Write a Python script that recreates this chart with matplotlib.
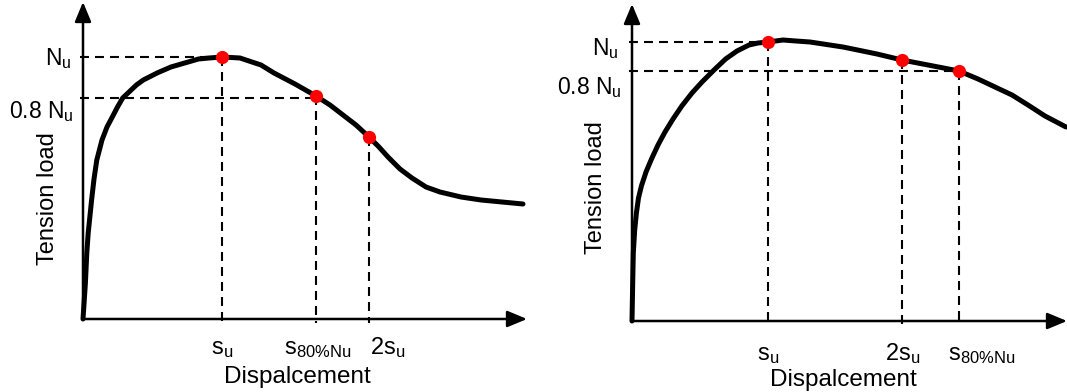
import matplotlib
matplotlib.use("Agg")
import matplotlib.pyplot as plt

plt.rcParams["font.family"] = ["Liberation Sans", "DejaVu Sans"]
plt.rcParams["mathtext.fontset"] = "custom"
plt.rcParams["mathtext.rm"] = "Liberation Sans"
plt.rcParams["mathtext.it"] = "Liberation Sans:italic"

# left panel: load drops fast after the peak
left_disp = [0, 0.24, 0.38, 0.52, 0.86, 1.1, 1.38, 1.9, 2.4, 2.93, 3.45, 3.97, 5.34, 6.03,
             7.41, 8.79, 10.17, 11.55, 12.6, 13.9, 15.7, 17.8, 19.1, 21.2, 23.3, 24.7,
             26.0, 27.3, 28.6, 29.6, 30.5, 31.7, 32.9, 34.3, 35.7, 37.8, 39.8, 41.9, 44.0]
left_load = [0, 3.6, 6.6, 8.6, 11.9, 14.0, 15.9, 17.9, 19.2, 20.2, 21.2, 22.1, 23.4, 23.9,
             24.6, 25.2, 25.6, 26.0, 26.1, 26.2, 26.1, 25.4, 24.6, 23.5, 22.3, 21.4,
             20.4, 19.4, 18.2, 17.2, 16.2, 15.0, 14.1, 13.2, 12.7, 12.2, 11.9, 11.7, 11.5]
left_mark_disp = [13.9, 23.3, 28.6]
left_mark_load = [26.2, 22.3, 18.2]
left_tick_pos = [13.9, 23.5, 30.5]
left_tick_labels = [r"$\mathregular{s_u}$", r"$\mathregular{s_{80\%Nu}}$", r"$\mathregular{2s_u}$"]

# right panel: load stays near the peak longer
right_disp = [0, 0.07, 0.13, 0.27, 0.44, 0.65, 0.94, 1.4, 1.95, 2.6, 3.3, 4.1, 4.98, 6.0,
              7.0, 8.2, 9.36, 10.5, 11.7, 12.6, 13.6, 15.1, 16.4, 17.8, 21.1, 24.5, 27.0,
              29.6, 32.7, 34.6, 36.3, 38.0, 39.6, 41.3, 43.4]
right_load = [0, 3.8, 6.8, 9.1, 10.8, 12.3, 13.5, 14.9, 16.2, 17.6, 18.9, 20.2, 21.5, 22.8,
              23.9, 25.1, 26.2, 27.0, 27.6, 27.8, 27.9, 28.1, 28.0, 27.9, 27.4, 26.7, 26.1,
              25.6, 25.0, 24.2, 23.4, 22.6, 21.6, 20.5, 19.4]
right_mark_disp = [13.6, 27.0, 32.7]
right_mark_load = [27.9, 26.1, 25.0]
right_tick_pos = [13.6, 27.1, 35.0]
right_tick_labels = [r"$\mathregular{s_u}$", r"$\mathregular{2s_u}$", r"$\mathregular{s_{80\%Nu}}$"]

level_labels = [r"$\mathregular{N_u}$", r"$\mathregular{0.8\ N_u}$"]
left_levels = [26.2, 22.1]
right_levels = [27.9, 25.0]

FIG_W, FIG_H = 1067, 392
fig = plt.figure(figsize=(FIG_W / 100, FIG_H / 100), dpi=100)


def draw_panel(origin, x_len, y_len, xmax, ymax, disp, load, mark_disp, mark_load,
               levels, level_ends, tick_pos, tick_labels, label_x, label_y, lab_opts):
    ox, oy = origin
    ax = fig.add_axes([ox / FIG_W, (FIG_H - oy) / FIG_H, x_len / FIG_W, y_len / FIG_H])
    ax.set_xlim(0, xmax)
    ax.set_ylim(0, ymax)
    ax.axis("off")

    arrow = dict(arrowstyle="-|>,head_length=0.6,head_width=0.25", color="black",
                 lw=1.8, mutation_scale=20, shrinkA=0, shrinkB=0)
    ax.annotate("", xy=(xmax, 0), xytext=(0, 0), arrowprops=arrow, annotation_clip=False)
    ax.annotate("", xy=(0, ymax), xytext=(0, 0), arrowprops=arrow, annotation_clip=False)

    dash = (0, (4.3, 2.9))
    for lev, end in zip(levels, level_ends):
        ax.plot([-0.3, end], [lev, lev], color="black", lw=1.5, linestyle=dash, clip_on=False)
    for xd, yd in zip(mark_disp, mark_load):
        ax.plot([xd, xd], [yd, -0.4], color="black", lw=1.5, linestyle=dash, clip_on=False)

    ax.plot(disp, load, color="black", lw=3.6, solid_capstyle="round",
            solid_joinstyle="round", clip_on=False, zorder=3)
    ax.scatter(mark_disp, mark_load, s=90, color="#ff0000", zorder=4, clip_on=False,
               linewidths=0)

    for pos, lab in zip(tick_pos, tick_labels):
        ax.text(pos, label_y["tick"], lab, ha="center", va="baseline", fontsize=17)
    for (lx, ly), lab in zip(lab_opts, level_labels):
        ax.text(lx, ly, lab, ha="right", va="baseline", fontsize=16.5)

    ax.text(label_x["xlab"], label_y["xlab"], "Dispalcement", ha="center",
            va="baseline", fontsize=17.5)
    ax.text(label_x["ylab"], label_y["ylab"], "Tension load", ha="center",
            va="center", rotation=90, fontsize=17)
    return ax


draw_panel((83, 319), 444, 317, 44.4, 31.7, left_disp, left_load,
           left_mark_disp, left_mark_load, left_levels,
           [left_mark_disp[0], left_mark_disp[1]], left_tick_pos, left_tick_labels,
           {"xlab": 21.4, "ylab": -3.5}, {"tick": -3.5, "xlab": -6.4, "ylab": 12.0},
           [(-1.1, 25.4), (-0.9, 20.1)])

draw_panel((632, 321), 435, 317, 43.5, 31.7, right_disp, right_load,
           right_mark_disp, right_mark_load, right_levels,
           [right_mark_disp[0], right_mark_disp[2]], right_tick_pos, right_tick_labels,
           {"xlab": 21.1, "ylab": -3.6}, {"tick": -3.9, "xlab": -6.5, "ylab": 13.3},
           [(-1.3, 26.6), (-1.0, 22.7)])

fig.savefig("out.png", dpi=100)
